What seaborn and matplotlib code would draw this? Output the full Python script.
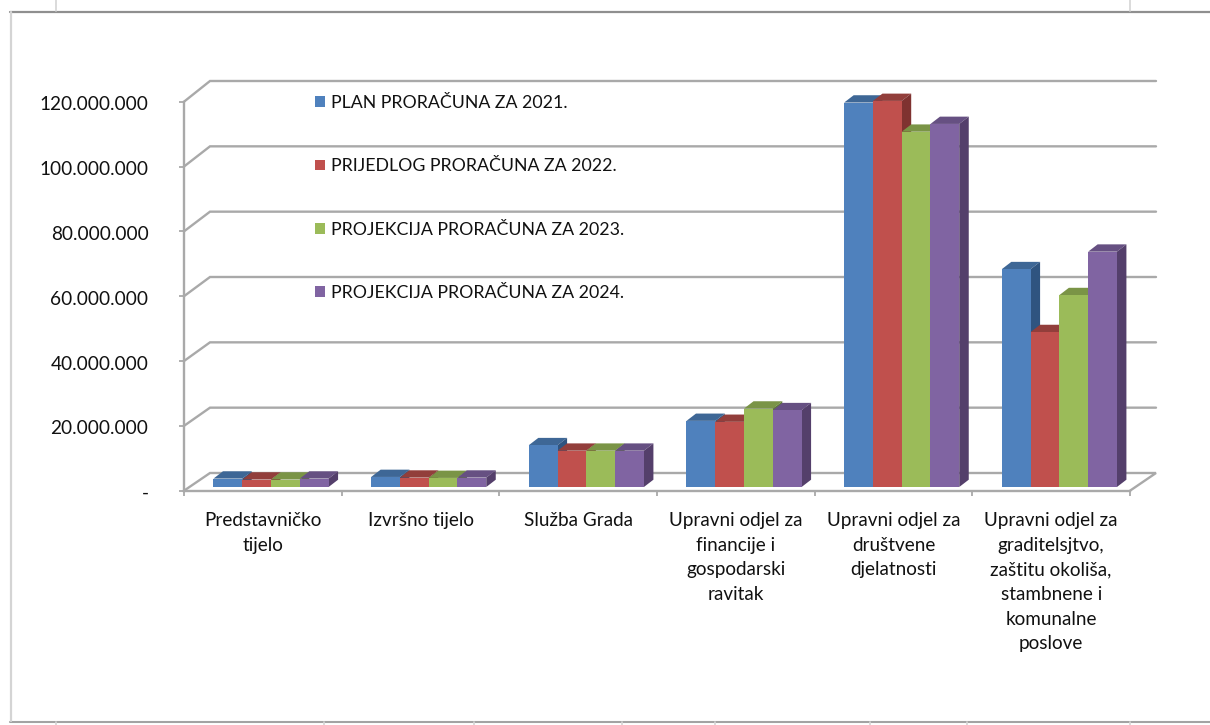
import matplotlib
matplotlib.use("Agg")
import matplotlib.pyplot as plt
import pandas as pd
import seaborn as sns
from matplotlib.lines import Line2D
from matplotlib.patches import Polygon
from matplotlib.transforms import Affine2D, IdentityTransform

categories = ["Predstavničko\ntijelo", "Izvršno tijelo", "Služba Grada",
              "Upravni odjel za\nfinancije i\ngospodarski\nravitak",
              "Upravni odjel za\ndruštvene\ndjelatnosti",
              "Upravni odjel za\ngraditelsjtvo,\nzaštitu okoliša,\nstambnene i\nkomunalne\nposlove"]
series_names = ["PLAN PRORAČUNA ZA 2021.", "PRIJEDLOG PRORAČUNA ZA 2022.",
                "PROJEKCIJA PRORAČUNA ZA 2023.", "PROJEKCIJA PRORAČUNA ZA 2024."]
plan_2021 = [2600000, 3100000, 12900000, 20400000, 118600000, 67200000]
prijedlog_2022 = [2300000, 2900000, 11200000, 20100000, 119100000, 47800000]
projekcija_2023 = [2300000, 2800000, 11200000, 24200000, 109600000, 59200000]
projekcija_2024 = [2600000, 2900000, 11200000, 23700000, 112000000, 72600000]
y_ticks = [0, 20000000, 40000000, 60000000, 80000000, 100000000, 120000000]
y_tick_labels = ["-", "20.000.000", "40.000.000", "60.000.000", "80.000.000", "100.000.000", "120.000.000"]

front_colors = ["#4F81BD", "#C0504D", "#9BBB59", "#8064A2"]
top_colors = ["#3E6796", "#923E3B", "#7A9446", "#665082"]
side_colors = ["#2F5480", "#7F3230", "#5F7A35", "#543F6B"]
GRID = "#a9a9a9"
W, H = 1210, 725

df = pd.DataFrame({
    "cat": categories * 4,
    "series": [s for s in series_names for _ in categories],
    "value": plan_2021 + prijedlog_2022 + projekcija_2023 + projekcija_2024,
})

sns.set_theme(style="white")
plt.rcParams["font.family"] = ["Lato", "DejaVu Sans"]
fig = plt.figure(figsize=(W / 100, H / 100), dpi=100, facecolor="white")
ax = fig.add_axes([184 / W, (H - 490.7) / H, 946 / W, 389 / H])
ax.patch.set_alpha(0)
sns.barplot(data=df, x="cat", y="value", hue="series", hue_order=series_names,
            palette=front_colors, width=0.73, gap=0, dodge=True, saturation=1,
            linewidth=0, ax=ax, legend=True, zorder=3)
ax.set_xlim(-0.5, 5.5)
ax.set_ylim(0, 120000000)
ax.set_xlabel("")
ax.set_ylabel("")
ax.set_yticks(y_ticks, y_tick_labels)
ax.set_xticks([i - 0.5 for i in range(7)], minor=False)
ax.set_xticklabels([""] * 7)
for i, c in enumerate(categories):
    ax.annotate(c, xy=(i, 0), xycoords="data", xytext=(0, -15.3), textcoords="offset points",
                ha="center", va="top", fontsize=13.6, color="#111111", linespacing=1.55, annotation_clip=False)
ax.tick_params(axis="both", length=3.6, width=1.3, color=GRID, left=True, bottom=True)
ax.tick_params(axis="y", labelsize=13.7, labelcolor="#111111", pad=22)
for lab in ax.get_yticklabels():
    lab.set_transform(lab.get_transform() + Affine2D().translate(0, -1.5))
sns.despine(ax=ax)
for side in ("left", "bottom"):
    ax.spines[side].set_color(GRID)
    ax.spines[side].set_linewidth(1.7)
    ax.spines[side].set_zorder(1)

# pseudo-3D wall: offsets in pixels from the axes' own scale
WALL_DX, WALL_DY_LOW, WALL_DY_HIGH = 26, 17.7, 20.7
def P(x, y):
    return ax.transData.transform((x, y))
for v in y_ticks:
    x0, y0 = P(-0.5, v)
    x1, _ = P(5.5, v)
    dy = WALL_DY_LOW + (WALL_DY_HIGH - WALL_DY_LOW) * v / y_ticks[-1]
    pts = [(x0, y0), (x0 + WALL_DX, y0 + dy), (x1 + WALL_DX, y0 + dy)]
    if v == 0:
        pts.append((x1, y0))
    ax.add_line(Line2D(*zip(*pts), transform=IdentityTransform(), color=GRID, lw=1.7,
                       zorder=1, clip_on=False, solid_joinstyle="miter"))

# pseudo-3D bars: shift the fronts and add top and side faces
SHIFT_X, SHIFT_Y = 8.2, 3.7
DEPTH_X, DEPTH_Y = 9.5, 7.3
z = 3
shift = ax.transData + Affine2D().translate(SHIFT_X, SHIFT_Y)
bars = []
for si, cont in enumerate(ax.containers):
    for bi, bar in enumerate(cont):
        bars.append((bi, si, bar))
for bi, si, bar in sorted(bars, key=lambda t: (t[0], t[1])):
    xa, ya = P(bar.get_x(), 0)
    xb, yb = P(bar.get_x() + bar.get_width(), bar.get_height())
    xa, xb = xa + SHIFT_X, xb + SHIFT_X
    ya, yb = ya + SHIFT_Y, yb + SHIFT_Y
    top = [(xa, yb), (xb, yb), (xb + DEPTH_X, yb + DEPTH_Y), (xa + DEPTH_X, yb + DEPTH_Y)]
    sidef = [(xb, ya), (xb, yb), (xb + DEPTH_X, yb + DEPTH_Y), (xb + DEPTH_X, ya + DEPTH_Y)]
    ax.add_patch(Polygon(top, closed=True, transform=IdentityTransform(), fc=top_colors[si], ec="none", zorder=z, clip_on=False))
    ax.add_patch(Polygon(sidef, closed=True, transform=IdentityTransform(), fc=side_colors[si], ec="none", zorder=z, clip_on=False))
    bar.set_transform(shift)
    bar.set_zorder(z + 0.5)
    bar.set_clip_on(False)
    z += 1

handles, labels = ax.get_legend_handles_labels()
ax.legend(handles, labels, loc="upper left", bbox_to_anchor=(315, H - 95), bbox_transform=IdentityTransform(),
          frameon=False, fontsize=12.75, labelspacing=2.67, handlelength=0.57, handleheight=0.57,
          handletextpad=0.34, borderpad=0, borderaxespad=0, labelcolor="#111111")

# surrounding sheet lines of the screenshot
def sheet(xs, ys, color, lw):
    fig.add_artist(Line2D(xs, [H - y for y in ys], transform=IdentityTransform(), color=color, lw=lw))
sheet([10, W], [12, 12], "#8f8f8f", 1.6)
sheet([10, W], [721.5, 721.5], "#a3a3a3", 1.5)
sheet([11, 11], [12, 721], "#d4d4d4", 1.6)
for x in (55.5, 1130):
    sheet([x, x], [0, 11], "#d4d4d4", 1.2)
for x in (55.5, 324, 474, 622, 714.5, 870, 967, 1130):
    sheet([x, x], [722, 725], "#d4d4d4", 1.2)

fig.savefig("out.png", dpi=100, facecolor="white")
